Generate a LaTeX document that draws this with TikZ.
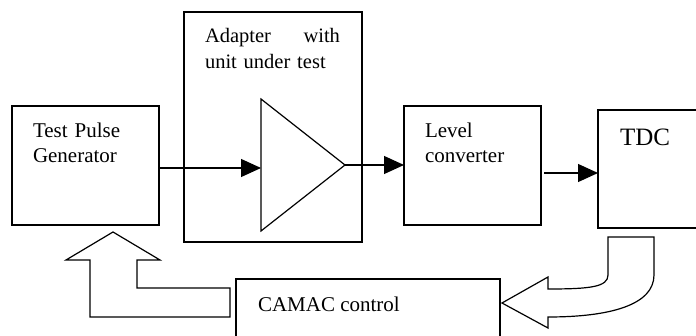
\documentclass[tikz,border=0pt]{standalone}
\usepackage{fontspec}
\setmainfont{Liberation Serif}
\usetikzlibrary{arrows.meta}
\tikzset{
  blockbox/.style={draw, rectangle, inner sep=0pt, outer sep=0pt, anchor=north west},
  lbl/.style={inner sep=0pt, outer sep=0pt, anchor=base west, align=left,
              font=\fontsize{21}{25}\selectfont},
  arr/.style={-{Triangle[length=20pt,width=18pt]}},
  fat/.style={draw, line join=miter, fill=white}
}
\begin{document}
\begin{tikzpicture}[x=1pt, y=-1pt, line width=1.2pt]
\useasboundingbox (0,0) rectangle (696,336);
\clip (0,0) rectangle (696,336);

% blocks
\node[blockbox, minimum width=147pt, minimum height=119pt] (tpg) at (12,106) {};
\node[blockbox, minimum width=178pt, minimum height=230pt] (adapter) at (184,12) {};
\node[blockbox, minimum width=137pt, minimum height=119pt] (level) at (404,106) {};
\node[blockbox, minimum width=130pt, minimum height=118pt] (tdc) at (598,110) {};
\node[blockbox, minimum width=264pt, minimum height=90pt] (camac) at (236,279) {};

% block captions
\node[lbl, text width=120pt] (tpgtext) at (33,138) {Test Pulse\\Generator};
\node[lbl, text width=135pt, font=\fontsize{20.5}{26}\selectfont] (adaptertext) at (205,43)
  {Adapter\hfill with\\unit under test};
\node[lbl, text width=110pt] (leveltext) at (425,138) {Level\\converter};
\node[lbl, font=\fontsize{25}{28}\selectfont] (tdctext) at (620,146) {TDC};
\node[lbl] (camactext) at (258,312) {CAMAC control};

% amplifier symbol of the unit under test
\coordinate (ampin) at (261,168);
\coordinate (amptip) at (345,165);
\draw[line join=miter] (261,99) -- (amptip) -- (261,231) -- cycle;

% signal path
\draw[arr] (tpg.east |- ampin) -- (ampin);
\draw[arr] (amptip) -- (amptip -| level.west);
\coordinate (lvout) at (544,173);
\draw[arr] (lvout) -- (lvout -| tdc.west);

% control loop: CAMAC back to the pulse generator
\draw[fat] (113,232) -- (160,260) -- (137,260) -- (137,288) -- (230,288)
  -- (230,317) -- (90,317) -- (90,260) -- (66,260) -- cycle;

% readout: TDC into CAMAC
\draw[fat] (608,237) -- (654,237) -- (654,275)
  .. controls (654,305) and (610,317) .. (548,317)
  -- (548,328) -- (502,303) -- (548,277) -- (548,289)
  .. controls (590,289) and (608,287) .. (608,275) -- cycle;
\end{tikzpicture}
\end{document}
